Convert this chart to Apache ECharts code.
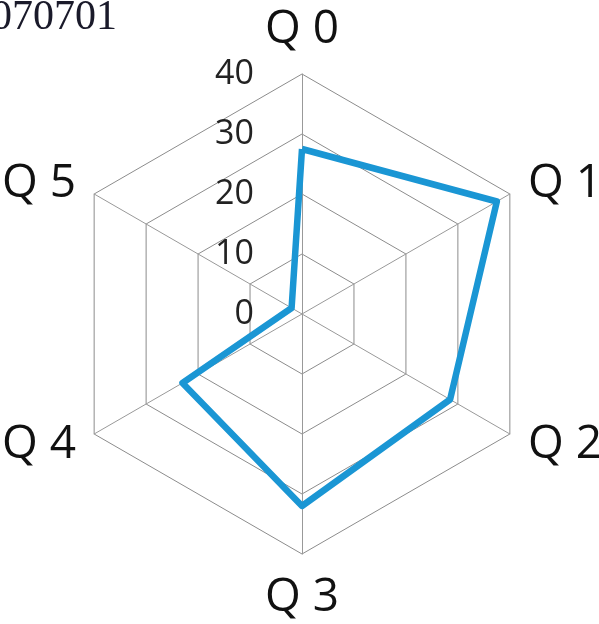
<!DOCTYPE html>
<html>
<head>
<meta charset="utf-8">
<title>radar</title>
<script src="https://cdn.jsdelivr.net/npm/echarts@6/dist/echarts.min.js"></script>
<style>
html,body{margin:0;padding:0;background:#fff;}
#chart{width:599px;height:624px;}
</style>
</head>
<body>
<div id="chart"></div>
<script>
// 数据
var titleText = '070701';
var axisNames = ['Q 0', 'Q 1', 'Q 2', 'Q 3', 'Q 4', 'Q 5'];
var axisMax = 40;
var values = [27.5, 37.5, 28.5, 32, 23, 2];

var chart = echarts.init(document.getElementById('chart'));

// echarts雷达图是逆时针排列，这里反过来变成顺时针
var order = [0];
for(var k = axisNames.length - 1; k > 0; k--){
	order.push(k);
}
var indicator = order.map(function(i){
	var item = {name: axisNames[i], max: axisMax, min: 0};
	if(i == 0){
		item.axisLabel = {show: true};
	}
	return item;
});
var seriesValues = order.map(function(i){
	return values[i];
});

chart.setOption({
	animation: false,
	title: {
		text: titleText,
		left: -9,
		top: -3,
		padding: 0,
		textStyle: {
			fontFamily: 'Liberation Serif',
			fontWeight: 'normal',
			fontSize: 42,
			color: '#1a1a2a'
		}
	},
	radar: {
		center: [302, 314],
		radius: 240,
		startAngle: 90,
		splitNumber: 4,
		shape: 'polygon',
		indicator: indicator,
		axisName: {
			color: '#111',
			fontFamily: 'Open Sans',
			fontSize: 46
		},
		nameGap: 21,
		axisLine: {lineStyle: {color: '#999', width: 1}},
		splitLine: {lineStyle: {color: '#8c8c8c', width: 1}},
		splitArea: {show: false},
		axisTick: {show: false},
		axisLabel: {
			show: false,
			color: '#222',
			fontFamily: 'Open Sans',
			fontSize: 34,
			margin: 48
		}
	},
	series: [{
		type: 'radar',
		symbol: 'none',
		lineStyle: {color: '#1a96d4', width: 6.5},
		data: [{value: seriesValues, name: titleText}]
	}]
});
</script>
</body>
</html>
